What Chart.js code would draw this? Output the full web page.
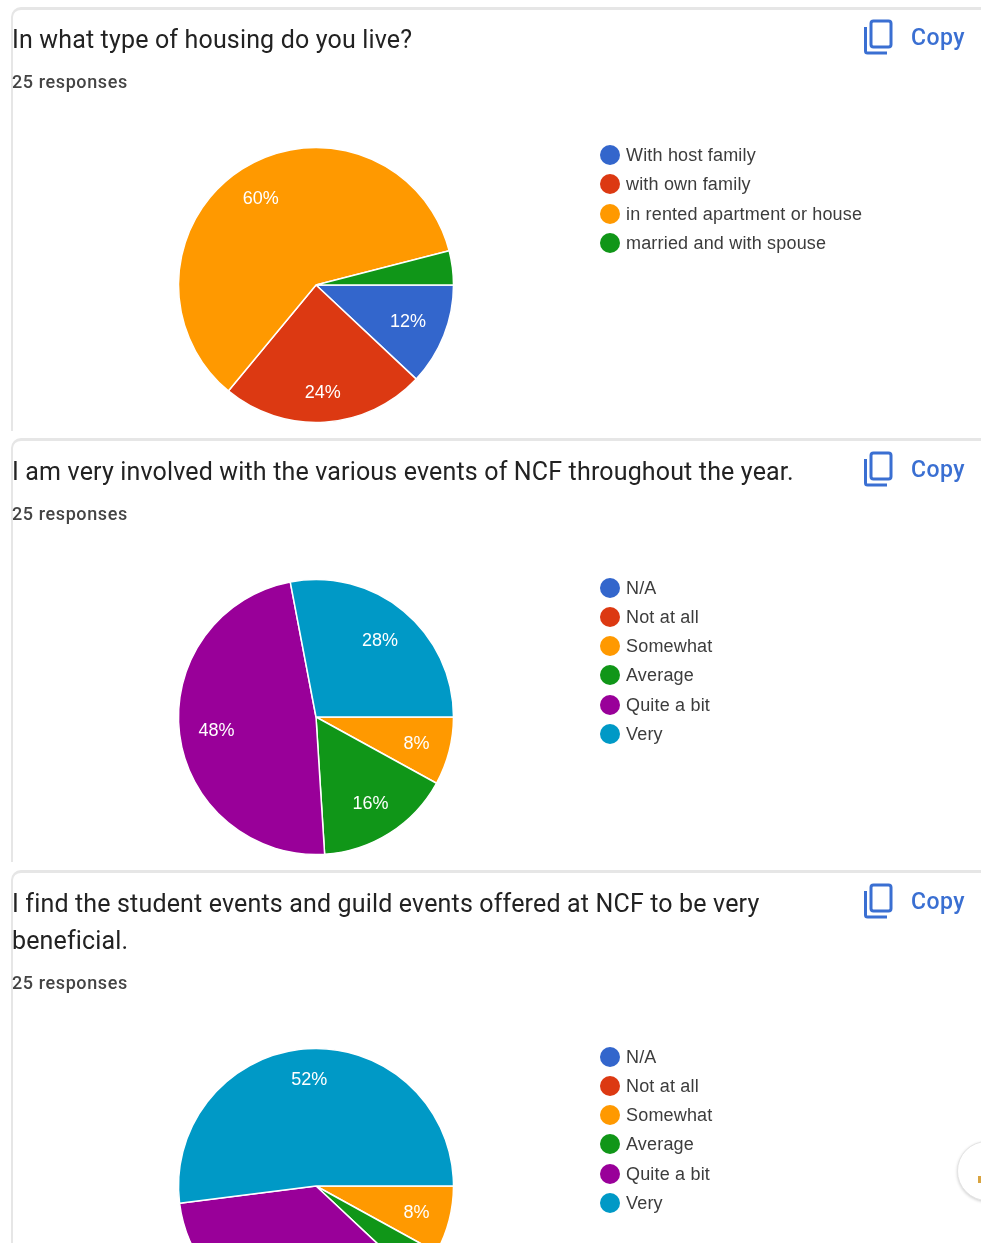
<!DOCTYPE html>
<html>
<head>
<meta charset="utf-8">
<script src="https://cdn.jsdelivr.net/npm/chart.js@4"></script>
<style>
html,body{margin:0;padding:0;background:#fff;width:981px;height:1243px;overflow:hidden}
body{position:relative;font-family:Roboto,sans-serif}
#page{position:absolute;left:0;top:0;width:981px;height:1243px;overflow:hidden;filter:blur(.5px)}
.card{position:absolute;left:11px;width:990px;border:2px solid #e6e6e6;border-top-width:3px;border-right:none;border-bottom:none;border-top-left-radius:10px;box-sizing:border-box;background:#fff}
.t{position:absolute;white-space:nowrap}
.title{left:12px;font-size:25px;letter-spacing:.16px;color:#222;line-height:30px}
.resp{left:12px;font-size:18px;font-weight:500;color:#444;line-height:22px;letter-spacing:.6px}
.copy{left:911px;font-size:23px;font-weight:500;letter-spacing:.5px;color:#3a6fd2;line-height:28px}
.leg{left:626px;font-family:"Liberation Sans",Arial,sans-serif;font-size:18px;letter-spacing:.18px;color:#3c3c3c;line-height:22px}
.dot{position:absolute;left:600px;width:20px;height:20px;border-radius:50%}
canvas{position:absolute}
svg{position:absolute;left:862px}
#fab{position:absolute;left:957px;top:1141px;width:58px;height:58px;border-radius:50%;background:#fff;border:1px solid #e4e4e4;box-shadow:0 1px 3px rgba(0,0,0,.18)}
#fabdot{position:absolute;left:978px;top:1176px;width:3px;height:7px;background:#d9a440}
</style>
</head>
<body>
<div id="page"></div>
<script>
const housingLabels = ["With host family","with own family","in rented apartment or house","married and with spouse"];
const housingValues = [12,24,60,4];
const housingColors = ["#3366CC","#DC3912","#FF9900","#109618"];
const scaleLabels = ["N/A","Not at all","Somewhat","Average","Quite a bit","Very"];
const involvedValues = [0,0,8,16,48,28];
const beneficialValues = [0,0,8,4,36,52];
const scaleColors = ["#3366CC","#DC3912","#FF9900","#109618","#990099","#0099C6"];
const question1 = ["In what type of housing do you live?"];
const question2 = ["I am very involved with the various events of NCF throughout the year."];
const question3 = ["I find the student events and guild events offered at NCF to be very","beneficial."];
const responsesText = "25 responses";
const copyText = "Copy";
const labelRadiusHousing = [0.72,0.78,0.75,0.76];
const labelRadiusInvolved = [0.76,0.76,0.755,0.74,0.73,0.73];
const labelRadiusBeneficial = [0.76,0.76,0.755,0.76,0.76,0.78];

const page = document.getElementById('page');
function addText(cls, txt, left, cy, lh){
  const d = document.createElement('div');
  d.className = 't ' + cls;
  d.textContent = txt;
  d.style.top = (cy - lh/2) + 'px';
  if (left !== null) d.style.left = left + 'px';
  page.appendChild(d);
}
const minLabelShare = 5;
const sliceLabels = {
  id:'sliceLabels',
  afterDatasetsDraw(chart){
    const ctx = chart.ctx, meta = chart.getDatasetMeta(0), vals = chart.data.datasets[0].data;
    const factors = chart.options.plugins.sliceLabels.factors;
    ctx.save();
    ctx.fillStyle = '#fff';
    ctx.font = '18px "Liberation Sans", Arial, sans-serif';
    ctx.textAlign = 'center';
    ctx.textBaseline = 'middle';
    meta.data.forEach((arc,i)=>{
      if (vals[i] < minLabelShare) return;
      const mid = (arc.startAngle + arc.endAngle)/2;
      const r = arc.outerRadius * factors[i];
      ctx.fillText(vals[i] + '%', arc.x + Math.cos(mid)*r, arc.y + Math.sin(mid)*r + 1);
    });
    ctx.restore();
  }
};
function addCard(cfg){
  const c = document.createElement('div');
  c.className = 'card';
  c.style.top = cfg.top + 'px';
  c.style.height = cfg.height + 'px';
  page.appendChild(c);
  cfg.title.forEach((line,i)=>addText('title', line, null, cfg.textTop + 32 + i*37, 30));
  addText('resp', responsesText, null, cfg.respY, 22);
  addText('copy', copyText, null, cfg.textTop + 29.5, 28);
  const s = document.createElementNS('http://www.w3.org/2000/svg','svg');
  s.setAttribute('width','32'); s.setAttribute('height','38'); s.setAttribute('viewBox','0 0 32 38');
  s.style.top = (cfg.textTop + 10) + 'px';
  s.innerHTML = '<rect x="9" y="3" width="20" height="26" rx="2.5" fill="none" stroke="#3a6fd2" stroke-width="3"/><path d="M3.5 9v24a2 2 0 0 0 2 2H25" fill="none" stroke="#3a6fd2" stroke-width="3"/>';
  page.appendChild(s);
  cfg.labels.forEach((l,i)=>{
    const cy = cfg.legendY + i*29.3;
    const dot = document.createElement('div');
    dot.className = 'dot';
    dot.style.top = (cy - 10) + 'px';
    dot.style.background = cfg.colors[i];
    page.appendChild(dot);
    addText('leg', l, null, cy, 22);
  });
  const cv = document.createElement('canvas');
  cv.width = 284; cv.height = 284;
  cv.style.left = (316 - 142) + 'px';
  cv.style.top = (cfg.cy - 142) + 'px';
  cv.style.width = '284px'; cv.style.height = '284px';
  page.appendChild(cv);
  new Chart(cv,{
    type:'pie',
    data:{labels:cfg.labels,datasets:[{data:cfg.values,backgroundColor:cfg.colors,borderColor:'#ffffff',borderWidth:1.5}]},
    options:{
      responsive:false,animation:false,rotation:90,radius:137.5,
      layout:{padding:0},
      plugins:{legend:{display:false},tooltip:{enabled:false},sliceLabels:{factors:cfg.factors}}
    },
    plugins:[sliceLabels]
  });
}
addCard({top:7,textTop:8,height:424,title:question1,respY:82,labels:housingLabels,values:housingValues,colors:housingColors,legendY:155,cy:285,factors:labelRadiusHousing});
addCard({top:438,textTop:440,height:424,title:question2,respY:514,labels:scaleLabels,values:involvedValues,colors:scaleColors,legendY:587.5,cy:717,factors:labelRadiusInvolved});
addCard({top:870,textTop:872,height:400,title:question3,respY:983,labels:scaleLabels,values:beneficialValues,colors:scaleColors,legendY:1056.5,cy:1186,factors:labelRadiusBeneficial});
const fab = document.createElement('div'); fab.id='fab'; page.appendChild(fab);
const fabDot = document.createElement('div'); fabDot.id='fabdot'; page.appendChild(fabDot);
</script>
</body>
</html>
